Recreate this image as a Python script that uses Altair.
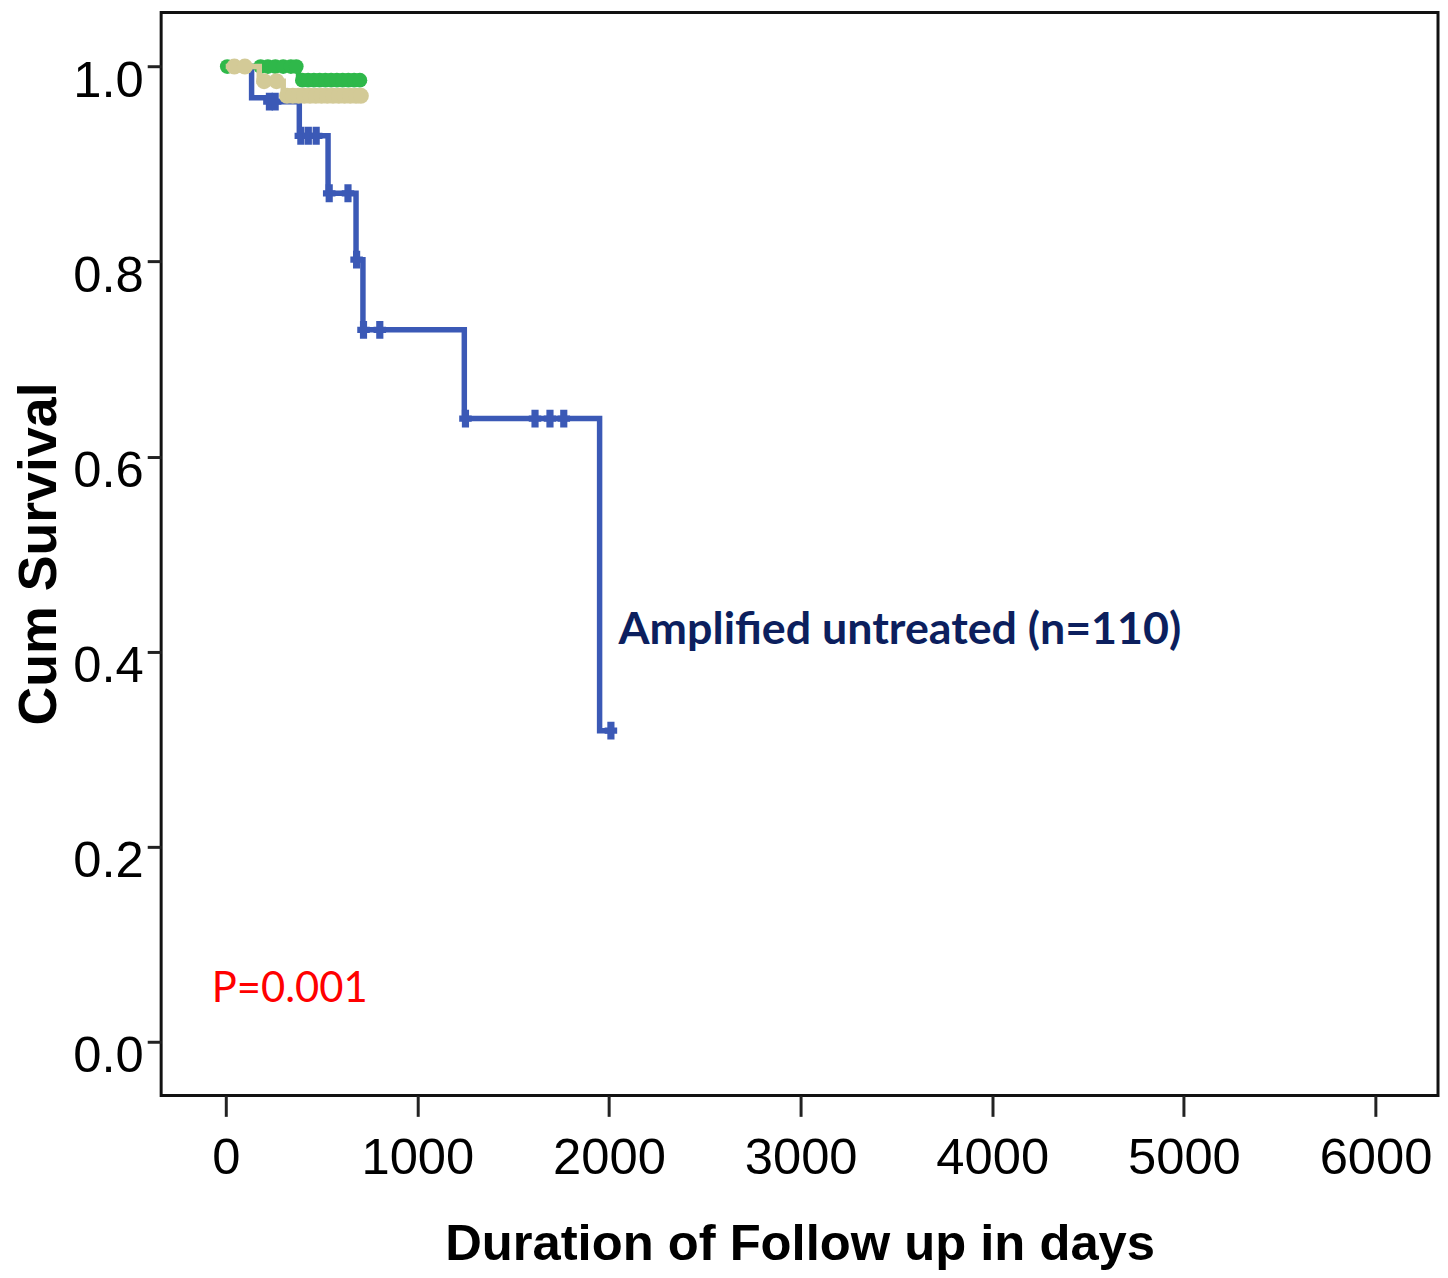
import altair as alt
import pandas as pd

# ---- data ----
blue_t = [0, 135, 225, 384, 534, 680, 716, 1245, 1951, 2010]
blue_s = [1.0, 0.968, 0.964, 0.929, 0.870, 0.802, 0.730, 0.639, 0.319, 0.319]
blue_ct = [228, 258, 392, 431, 472, 540, 638, 683, 719, 804, 1251, 1614, 1692, 1764, 2010]
blue_cs = [0.964, 0.964, 0.929, 0.929, 0.929, 0.870, 0.870, 0.802, 0.730, 0.730,
           0.639, 0.639, 0.639, 0.639, 0.319]

green_t = [0, 380, 735]
green_s = [1.0, 0.986, 0.986]
green_ct = [8, 182, 220, 259, 300, 340, 368, 400, 430, 460, 490, 520, 550, 580, 610, 640, 670, 700]
green_cs = [1.0, 1.0, 1.0, 1.0, 1.0, 1.0, 1.0, 0.986, 0.986, 0.986, 0.986, 0.986,
            0.986, 0.986, 0.986, 0.986, 0.986, 0.986]

tan_t = [0, 175, 300, 735]
tan_s = [1.0, 0.985, 0.970, 0.970]
tan_ct = [45, 100, 200, 265, 320, 350, 380, 410, 440, 470, 500, 530, 560, 590, 620, 650, 680, 705]
tan_cs = [1.0, 1.0, 0.985, 0.985, 0.970, 0.970, 0.970, 0.970, 0.970, 0.970, 0.970,
          0.970, 0.970, 0.970, 0.970, 0.970, 0.970, 0.970]

x_ticks = [0, 1000, 2000, 3000, 4000, 5000, 6000]
y_ticks = [0.0, 0.2, 0.4, 0.6, 0.8, 1.0]

label_text = ["Amplified untreated (n=110)"]
label_x = [2050]
label_y = [0.4077]
p_text = ["P=0.001"]
p_x = [-73]
p_y = [0.0405]

BLUE = "#3b59b6"
GREEN = "#2fb84a"
TAN = "#d3ca97"

xs = alt.Scale(domain=[-337, 6326], nice=False, zero=False)
ys = alt.Scale(domain=[-0.0551, 1.0554], nice=False, zero=False)

x_axis = alt.Axis(values=x_ticks, format="d", title="Duration of Follow up in days",
                  grid=False, domain=False, tickSize=21, tickWidth=3, tickColor="#222",
                  labelFont="Liberation Sans", labelFontSize=51, labelColor="#000",
                  labelBaseline="alphabetic", labelPadding=57, labelFlush=False,
                  labelOverlap=False,
                  titleFont="Liberation Sans", titleFontSize=51, titleFontWeight="bold",
                  titleColor="#000", titleBaseline="alphabetic", titleY=165, titleX=642,
                  titleAlign="center")
y_axis = alt.Axis(values=y_ticks, format=".1f", title="Cum Survival",
                  grid=False, domain=False, tickSize=14, tickWidth=3, tickColor="#222",
                  labelFont="Liberation Sans", labelFontSize=51, labelColor="#000",
                  labelBaseline="alphabetic", labelOffset=30, labelPadding=4,
                  labelFlush=False, labelOverlap=False,
                  titleFont="Liberation Sans", titleFontSize=54, titleFontWeight="bold",
                  titleColor="#000", titleBaseline="alphabetic", titleX=-106, titleY=544,
                  titleAngle=270, titleAlign="center")

cross = "M-0.4,-1H0.4V-0.35H0.7V0.35H0.4V1H-0.4V0.35H-0.7V-0.35H-0.4Z"


def xenc(field):
    return alt.X(field, scale=xs, axis=x_axis)


def yenc(field):
    return alt.Y(field, scale=ys, axis=y_axis)


def line_layer(t, s, color):
    df = pd.DataFrame({"t": t, "s": s})
    return alt.Chart(df).mark_line(interpolate="step-after", color=color,
                                   strokeWidth=5.5).encode(x=xenc("t:Q"), y=yenc("s:Q"))


def cens_layer(t, s, color, shape, size):
    df = pd.DataFrame({"t": t, "s": s})
    return alt.Chart(df).mark_point(shape=shape, filled=True, color=color, size=size,
                                    opacity=1).encode(x=xenc("t:Q"), y=yenc("s:Q"))


lab_df = pd.DataFrame({"t": label_x, "s": label_y, "txt": label_text})
p_df = pd.DataFrame({"t": p_x, "s": p_y, "txt": p_text})

lab = alt.Chart(lab_df).mark_text(align="left", baseline="alphabetic", font="Lato",
                                  fontWeight="bold", fontSize=45, color="#0c1f5e").encode(
    x=xenc("t:Q"), y=yenc("s:Q"), text="txt:N")
ptxt = alt.Chart(p_df).mark_text(align="left", baseline="alphabetic", font="Lato",
                                 fontSize=42, color="#ff0000").encode(
    x=xenc("t:Q"), y=yenc("s:Q"), text="txt:N")

chart = alt.layer(
    line_layer(blue_t, blue_s, BLUE),
    cens_layer(blue_ct, blue_cs, BLUE, cross, 324),
    line_layer(green_t, green_s, GREEN),
    cens_layer(green_ct, green_cs, GREEN, "circle", 220),
    line_layer(tan_t, tan_s, TAN),
    cens_layer(tan_ct, tan_cs, TAN, "circle", 260),
    lab,
    ptxt,
).properties(
    width=1284, height=1089,
    autosize=alt.AutoSizeParams(type="none"),
    padding={"left": 154, "top": 1, "right": 2, "bottom": 179},
    background="white",
).configure_view(stroke="#111", strokeWidth=3)

chart.save("out.html", embed_options={"renderer": "svg", "actions": False})
